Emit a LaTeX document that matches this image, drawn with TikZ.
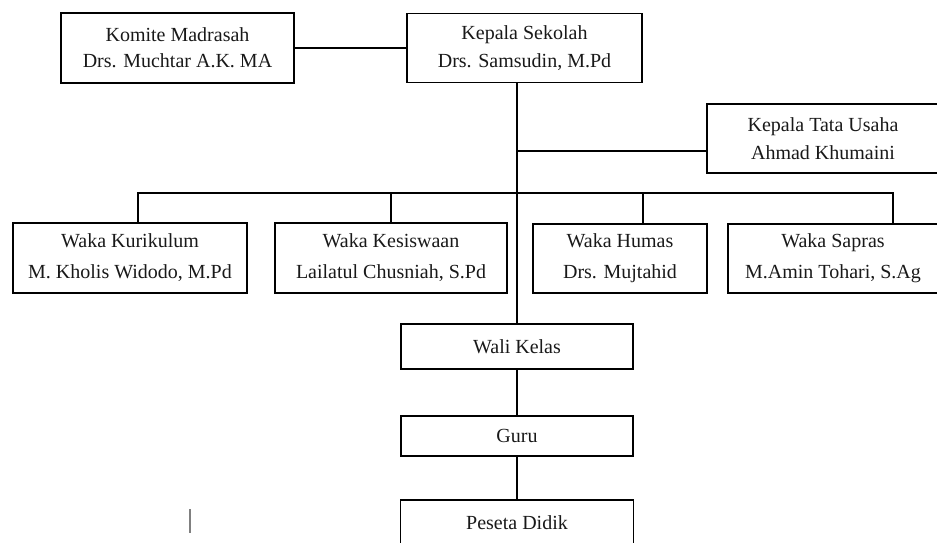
\documentclass[tikz,border=0pt]{standalone}
\usepackage{fontspec}
\setmainfont{Liberation Serif}
\tikzset{
  jabatan/.style={draw, line width=1.5pt, inner sep=0pt, align=center, text=black!90},
  garis/.style={line width=1.5pt},
}
\begin{document}
\begin{tikzpicture}[x=1pt,y=-1pt]
\useasboundingbox (0,0) rectangle (937,542);

\node[jabatan, minimum width=233pt, minimum height=70pt, font=\fontsize{20}{26}\selectfont] (A) at (177.5,48) {Komite Madrasah\\Drs. Muchtar A.K. MA};
\node[jabatan, minimum width=235pt, minimum height=69pt, font=\fontsize{20}{28}\selectfont] (B) at (524.5,48) {Kepala Sekolah\\Drs. Samsudin, M.Pd};
\node[jabatan, minimum width=232pt, minimum height=69pt, font=\fontsize{20}{28}\selectfont] (C) at (823,138.5) {Kepala Tata Usaha\\Ahmad Khumaini};

\node[jabatan, minimum width=234pt, minimum height=70pt, font=\fontsize{20}{31}\selectfont] (D1) at (130,258) {Waka Kurikulum\\M. Kholis Widodo, M.Pd};
\node[jabatan, minimum width=232pt, minimum height=70pt, font=\fontsize{20}{31}\selectfont] (D2) at (391,258) {Waka Kesiswaan\\Lailatul Chusniah, S.Pd};
\node[jabatan, minimum width=174pt, minimum height=69pt, font=\fontsize{20}{31}\selectfont] (D3) at (620,258.5) {Waka Humas\\Drs. Mujtahid};
\node[jabatan, minimum width=210pt, minimum height=69pt, font=\fontsize{20}{31}\selectfont] (D4) at (833,258.5) {Waka Sapras\\M.Amin Tohari, S.Ag};

\node[jabatan, minimum width=232pt, minimum height=45pt, font=\fontsize{20}{24}\selectfont] (E) at (517,346.5) {Wali Kelas};
\node[jabatan, minimum width=232pt, minimum height=40pt, font=\fontsize{20}{24}\selectfont] (F) at (517,436) {Guru};
\node[jabatan, minimum width=233pt, minimum height=45pt, font=\fontsize{20}{24}\selectfont] (G) at (517,522.5) {Peseta Didik};

\coordinate (T) at (517,151);
\coordinate (k1) at (138,193);
\coordinate (k2) at (391,193);
\coordinate (k3) at (643,193);
\coordinate (k4) at (893,193);

\draw[garis] (A) to (B);
\draw[garis] (B.south -| T) to (E.north);
\draw[garis] (T) to (C.west |- T);
\draw[garis] (D1.north -| k1) -- (k1) -- (k4) -- (D4.north -| k4);
\draw[garis] (D2.north -| k2) to (k2);
\draw[garis] (D3.north -| k3) to (k3);
\draw[garis] (E) to (F);
\draw[garis] (F) to (G);

\draw[gray, line width=1.2pt] (190,509) -- (190,533);
\end{tikzpicture}
\end{document}
